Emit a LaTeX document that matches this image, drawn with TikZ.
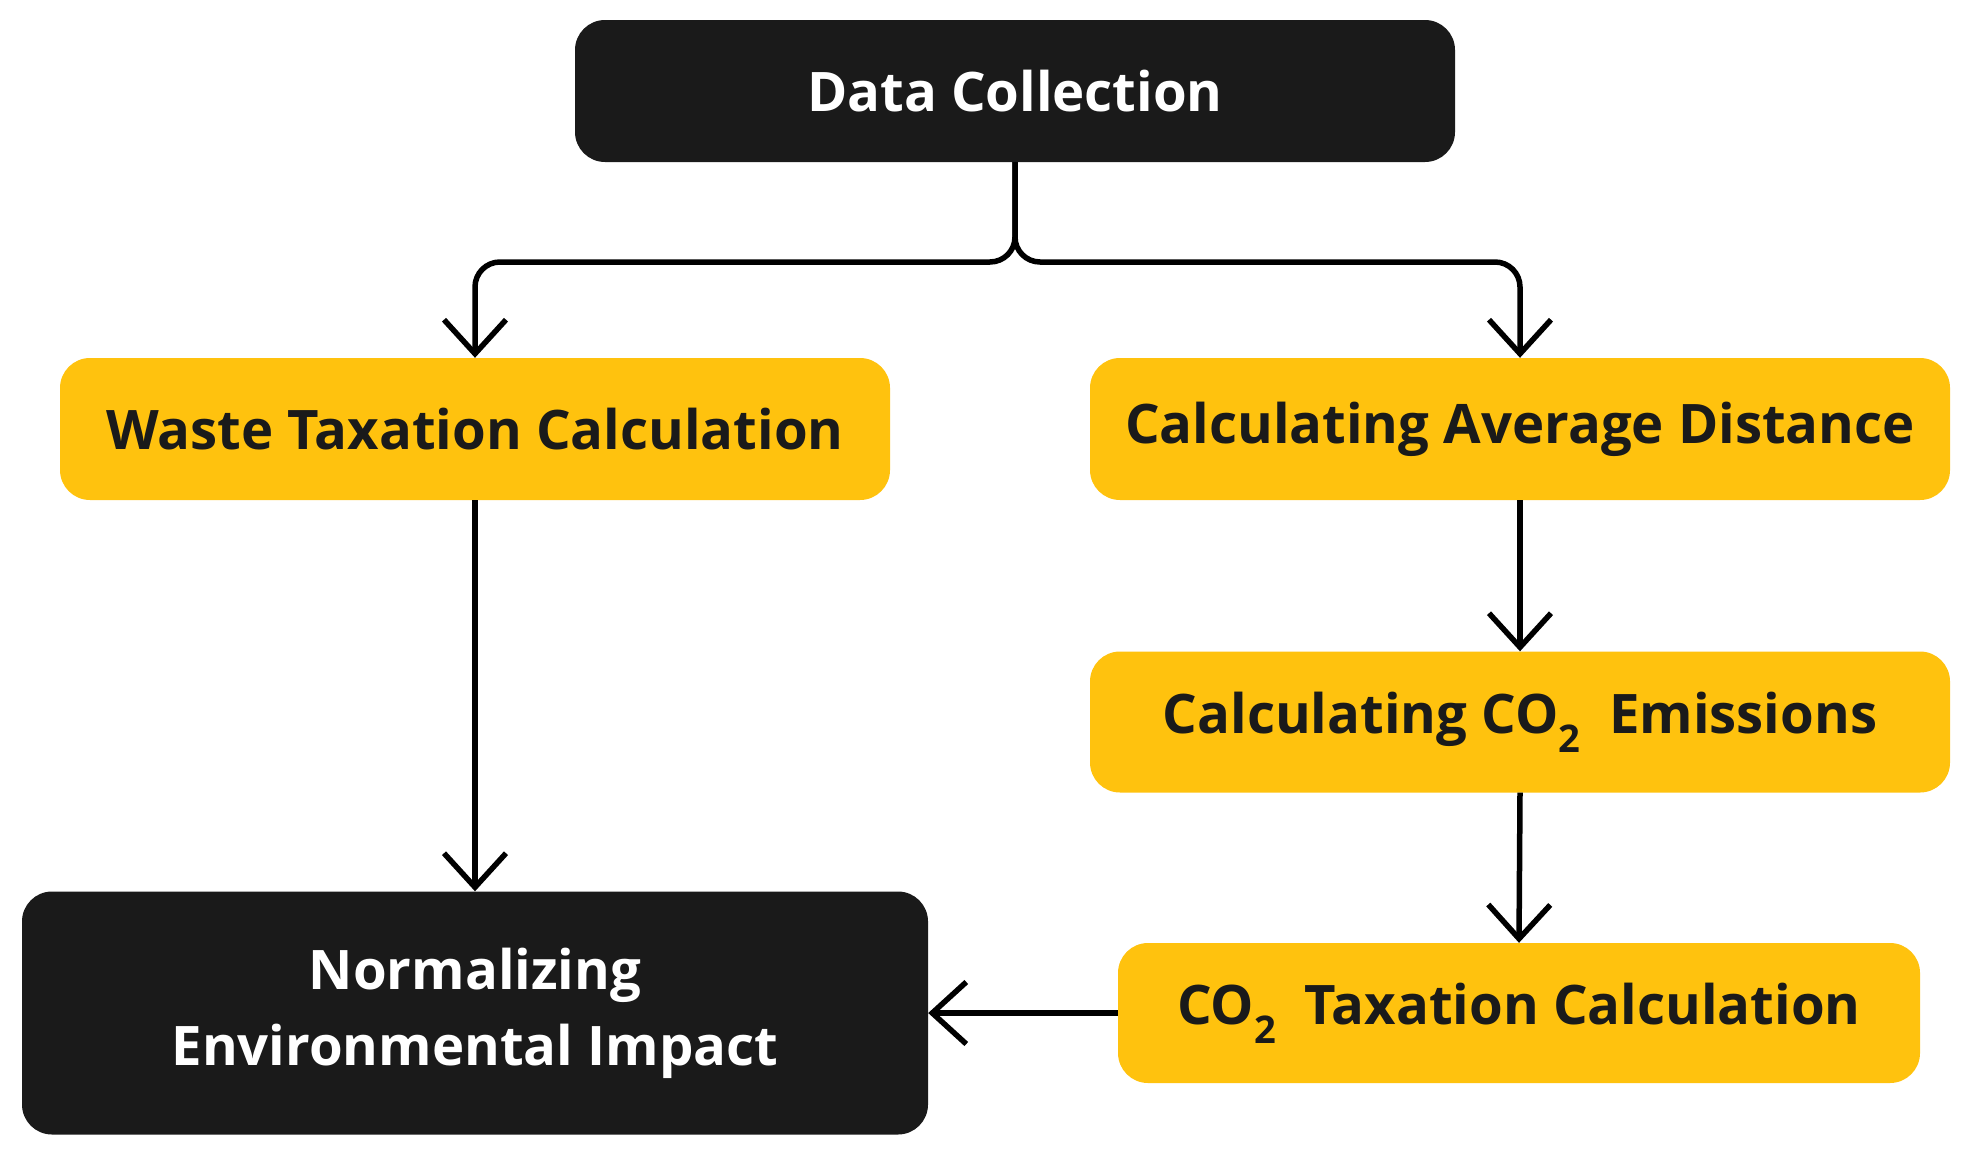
\documentclass[tikz,border=0pt]{standalone}
\usepackage{fontspec}
\setmainfont{Open Sans}
\usetikzlibrary{arrows.meta}
\definecolor{boxyellow}{HTML}{FFC20E}
\definecolor{boxblack}{HTML}{1A1A1A}
\tikzset{
  base/.style={rounded corners=30pt, inner sep=0pt, align=center,
    font=\fontsize{54.5}{76}\selectfont\bfseries},
  darkbox/.style={base, fill=boxblack, text=white},
  yellowbox/.style={base, fill=boxyellow, text=boxblack},
  arr/.style={line width=5.5pt, draw=black,
    -{Straight Barb[length=34pt,width=62pt,line width=5.5pt]}},
}
\begin{document}
\begin{tikzpicture}[x=1pt,y=-1pt]
\useasboundingbox (0,0) rectangle (1969,1154);
\node[darkbox, minimum width=880pt, minimum height=142pt] (dc) at (1015,91) {Data Collection};
\node[yellowbox, minimum width=830pt, minimum height=142pt] (wt) at (475,429) {Waste Taxation Calculation};
\node[yellowbox, minimum width=860pt, minimum height=142pt] (ad) at (1520,429) {Calculating Average Distance};
\node[yellowbox, minimum width=860pt, minimum height=141pt] (ce) at (1520,722) {Calculating CO\textsubscript{2}\ \ Emissions};
\node[yellowbox, minimum width=802pt, minimum height=140pt] (ct) at (1519,1013) {CO\textsubscript{2}\ \ Taxation Calculation};
\node[darkbox, minimum width=906pt, minimum height=243pt] (ne) at (475,1013) {Normalizing\\Environmental Impact};
\coordinate (split) at (1015,262);
\draw[arr, rounded corners=25pt] (dc.south) -- (split) -| (wt.north);
\draw[arr, rounded corners=25pt] (dc.south) -- (split) -| (ad.north);
\draw[arr] (wt.south) -- (ne.north);
\draw[arr] (ad.south) -- (ce.north);
\draw[arr] (ce.south) -- (ct.north);
\draw[arr] (ct.west) -- (ne.east);
\end{tikzpicture}
\end{document}
